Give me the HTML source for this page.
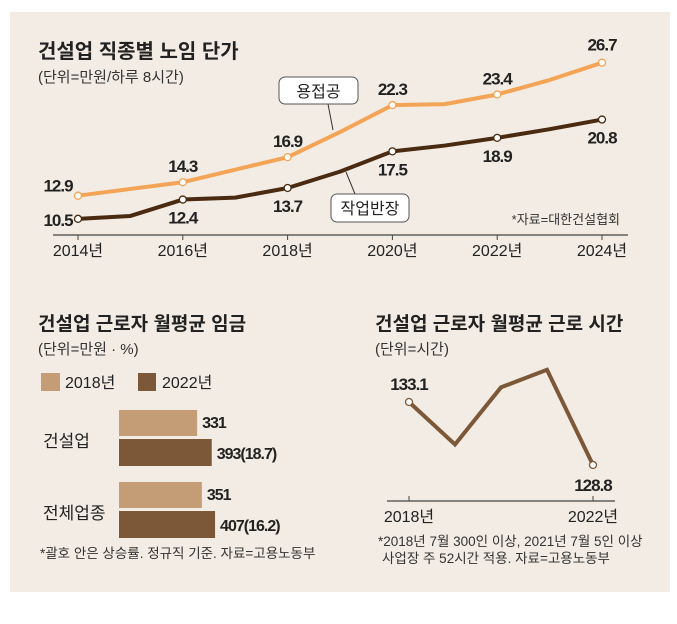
<!DOCTYPE html>
<html><head><meta charset="utf-8"><style>
body{margin:0;background:#fff;}
svg{display:block;font-family:"Liberation Sans Narrow","Liberation Sans","Noto Sans CJK KR",sans-serif;}
.t{font-family:"Liberation Sans","Noto Sans CJK KR",sans-serif;}
</style></head><body>
<svg id="s" width="677" height="624" viewBox="0 0 677 624">
<rect x="10" y="12" width="660" height="580" fill="#f2ece4"/>
<g id="topchart">
<text class="t" x="38" y="58" font-size="20" font-weight="bold" fill="#222">건설업 직종별 노임 단가</text>
<text class="t" x="38" y="82" font-size="15" fill="#333">(단위=만원/하루 8시간)</text>
<line x1="53" y1="235" x2="628" y2="235" stroke="#444" stroke-width="1.2"/>
<text x="620" y="224" font-size="13" text-anchor="end" fill="#333">*자료=대한건설협회</text>
</g>
<g id="bars">
<text class="t" x="38" y="330" font-size="19" font-weight="bold" fill="#222">건설업 근로자 월평균 임금</text>
<text class="t" x="38" y="354" font-size="15" fill="#333">(단위=만원 · %)</text>
<rect x="41" y="373" width="19" height="18" fill="#c49c76"/>
<text x="65" y="388" font-size="16" fill="#222">2018년</text>
<rect x="138" y="373" width="18" height="18" fill="#7d5838"/>
<text x="162" y="388" font-size="16" fill="#222">2022년</text>
<text x="40" y="558" font-size="13.5" fill="#333">*괄호 안은 상승률. 정규직 기준. 자료=고용노동부</text>
</g>
<g id="hours">
<text class="t" x="375" y="330" font-size="19" font-weight="bold" fill="#222">건설업 근로자 월평균 근로 시간</text>
<text class="t" x="375" y="354" font-size="15" fill="#333">(단위=시간)</text>
<line x1="387" y1="501" x2="615" y2="501" stroke="#444" stroke-width="1.2"/>
<text x="378" y="546" font-size="13.5" fill="#333">*2018년 7월 300인 이상, 2021년 7월 5인 이상</text>
<text x="382" y="563" font-size="13.5" fill="#333">사업장 주 52시간 적용. 자료=고용노동부</text>
</g>
</svg>
<script>
// top line chart data
const years = [2014,2015,2016,2017,2018,2019,2020,2021,2022,2023,2024];
const welderValues = [12.9,13.6,14.3,15.6,16.9,19.5,22.3,22.4,23.4,24.9,26.7];
const foremanValues = [10.5,10.8,12.5,12.7,13.7,15.4,17.5,18.1,18.9,19.8,20.8];
const welderLabels = [[2014,"12.9"],[2016,"14.3"],[2018,"16.9"],[2020,"22.3"],[2022,"23.4"],[2024,"26.7"]];
const foremanLabels = [[2014,"10.5"],[2016,"12.4"],[2018,"13.7"],[2020,"17.5"],[2022,"18.9"],[2024,"20.8"]];
const xTickYears = [2014,2016,2018,2020,2022,2024];
// bar chart data
const barCategories = ["건설업","전체업종"];
const wages2018 = [331,351];
const wages2022 = [393,407];
const wageRates = ["18.7","16.2"];
// hours chart data
const hourYears = [2018,2019,2020,2021,2022];
const hourValues = [133.1,130.2,134.1,135.3,128.8];
const hourLabeled = [[2018,"133.1"],[2022,"128.8"]];

const NS="http://www.w3.org/2000/svg";
function mk(tag,attrs,parent,txt){const e=document.createElementNS(NS,tag);for(const k in attrs)e.setAttribute(k,attrs[k]);if(txt!=null)e.textContent=txt;parent.appendChild(e);return e;}

const topG=document.getElementById('topchart');
const xT=y=>78+(y-2014)*52.4;
const yT=v=>195.7-(v-12.9)*9.64;
xTickYears.forEach(y=>{
  const t=mk('line',{x1:xT(y),y1:235,x2:xT(y),y2:240,stroke:'#444'},topG);
  
  
  const l=mk('text',{x:xT(y),y:256,'font-size':16,'text-anchor':'middle',fill:'#222'},topG,y+'년');
  
  
});
function series(vals,color,name,labels,dy,dx){
  const pl=mk('polyline',{points:vals.map((v,i)=>xT(years[i])+','+yT(v)).join(' '),fill:'none',stroke:color,'stroke-width':4,'stroke-linejoin':'round'},topG);
  
  
  labels.forEach(([y,s],j)=>{
    const v=vals[years.indexOf(y)];
    const c=mk('circle',{cx:xT(y),cy:yT(v),r:3.5,fill:'#fff',stroke:color,'stroke-width':1.3},topG);
    
    
    const t=mk('text',{x:xT(y)+dx[j],y:yT(v)+dy[j],'font-size':17,'font-weight':'bold','text-anchor':'middle',fill:'#222','letter-spacing':'-1'},topG,s);
    
    
  });
}
series(welderValues,'#f4a456','welder',welderLabels,[-4,-10,-10,-10,-10,-12],[-20,0,0,0,0,0]);
series(foremanValues,'#4a2a10','foreman',foremanLabels,[7,24,24,24,24,24],[-20,0,0,0,0,0]);

const cg=document.createElementNS(NS,'g');topG.appendChild(cg);


cg.innerHTML='<line x1="328" y1="104" x2="333" y2="130" stroke="#333" stroke-width="1"/>'+
'<rect x="279" y="77" width="79" height="27" rx="6" fill="#fff" stroke="#555"/>'+
'<text class="t" x="318.5" y="97" font-size="16" text-anchor="middle" fill="#222">용접공</text>'+
'<line x1="346" y1="172" x2="355" y2="194" stroke="#333" stroke-width="1"/>'+
'<rect x="331" y="194" width="78" height="28" rx="6" fill="#fff" stroke="#555"/>'+
'<text class="t" x="370" y="214" font-size="16" text-anchor="middle" fill="#222">작업반장</text>';

const bars=document.getElementById('bars');
const xB=v=>119+v*0.236;
barCategories.forEach((c,i)=>{
  const y0=410+i*72;
  const b1=mk('rect',{x:119,y:y0,width:xB(wages2018[i])-119,height:26,fill:'#c49c76'},bars);
  
  
  const b2=mk('rect',{x:119,y:y0+29,width:xB(wages2022[i])-119,height:27,fill:'#7d5838'},bars);
  
  
  const l1=mk('text',{x:xB(wages2018[i])+5,y:y0+18,'font-size':16,'font-weight':'bold',fill:'#222','letter-spacing':'-1'},bars,String(wages2018[i]));
  
  
  const l2=mk('text',{x:xB(wages2022[i])+5,y:y0+49,'font-size':16,'font-weight':'bold',fill:'#222','letter-spacing':'-1'},bars,wages2022[i]+'('+wageRates[i]+')');
  
  
  const cl=mk('text',{class:'t',x:43,y:y0+37,'font-size':17,fill:'#222'},bars,c);
  
  
});

const hrs=document.getElementById('hours');
const xH=y=>409+(y-2018)*46;
const yH=v=>402+(133.1-v)*14.65;
const hl=mk('polyline',{points:hourValues.map((v,i)=>xH(hourYears[i])+','+yH(v)).join(' '),fill:'none',stroke:'#7d5838','stroke-width':4,'stroke-linejoin':'miter'},hrs);


hourLabeled.forEach(([y,s],j)=>{
  const v=hourValues[hourYears.indexOf(y)];
  const c=mk('circle',{cx:xH(y),cy:yH(v),r:3.5,fill:'#fff',stroke:'#7d5838','stroke-width':1.3},hrs);
  
  
  const t=mk('text',{x:xH(y),y:j==0?yH(v)-12:yH(v)+26,'font-size':17,'font-weight':'bold','text-anchor':'middle',fill:'#222','letter-spacing':'-1'},hrs,s);
  
  
  const tk=mk('line',{x1:xH(y),y1:496,x2:xH(y),y2:501,stroke:'#444'},hrs);
  
  
  const tl=mk('text',{x:xH(y),y:522,'font-size':16,'text-anchor':'middle',fill:'#222'},hrs,y+'년');
  
  
});
</script>
</body></html>
